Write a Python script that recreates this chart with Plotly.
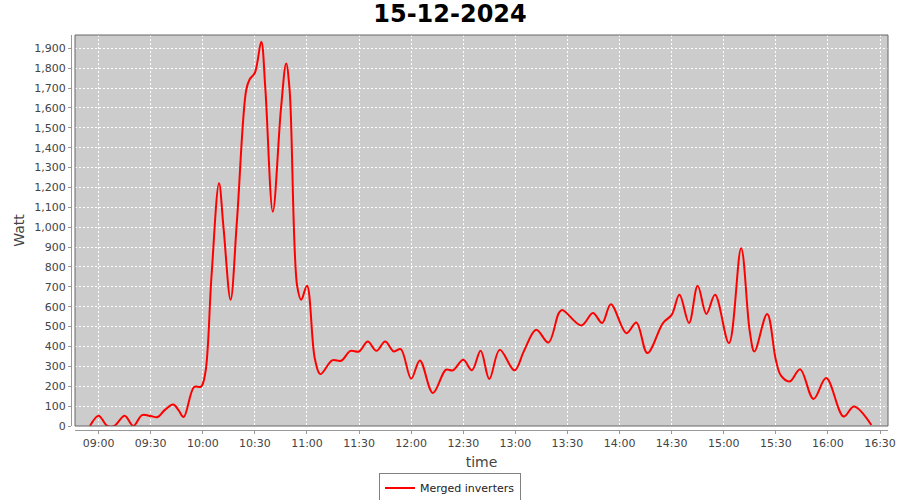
import plotly.graph_objects as go

DATE = "2024-12-15"
times = [
    "08:55:00", "09:00:00", "09:05:00", "09:09:00", "09:15:00", "09:20:00", "09:25:00", "09:30:00",
    "09:34:00", "09:38:00", "09:43:00", "09:46:00", "09:49:00", "09:55:00", "09:59:00", "10:01:30",
    "10:05:00", "10:09:20", "10:12:00", "10:16:00", "10:19:40", "10:25:00", "10:27:00", "10:30:00",
    "10:33:40", "10:36:00", "10:40:20", "10:45:00", "10:48:00", "10:50:00", "10:54:20", "10:56:40",
    "11:00:00", "11:04:30", "11:07:40", "11:14:30", "11:19:40", "11:25:00", "11:30:00", "11:35:00",
    "11:40:00", "11:45:00", "11:50:00", "11:54:00", "12:00:00", "12:05:00", "12:12:30", "12:20:00",
    "12:24:00", "12:30:00", "12:35:00", "12:40:00", "12:45:00", "12:51:00", "12:59:30", "13:05:00",
    "13:12:00", "13:19:00", "13:25:00", "13:27:00", "13:38:00", "13:44:40", "13:50:00", "13:55:00",
    "14:04:00", "14:09:40", "14:16:00", "14:25:00", "14:30:00", "14:34:30", "14:40:00", "14:45:00",
    "14:50:00", "14:55:00", "15:03:00", "15:10:00", "15:15:00", "15:17:40", "15:25:00", "15:30:00",
    "15:33:00", "15:38:00", "15:44:00", "15:51:40", "15:59:00", "16:09:00", "16:15:00", "16:25:00",
]
watts = [
    0, 52, 0, 0, 52, 0, 55, 50,
    45, 80, 108, 80, 45, 196, 198, 270,
    752, 1221, 990, 635, 1033, 1690, 1744, 1777,
    1933, 1700, 1078, 1594, 1824, 1690, 705, 635,
    705, 340, 261, 330, 328, 378, 375, 425,
    378, 425, 375, 387, 238, 330, 166, 283,
    280, 333, 280, 378, 236, 383, 280, 378,
    484, 420, 568, 584, 506, 568, 518, 613,
    467, 521, 367, 518, 559, 660, 518, 705,
    564, 660, 417, 894, 475, 375, 564, 333,
    253, 224, 286, 136, 241, 48, 98, 5,
]
series_name = "Merged inverters"
title_text = "15-12-2024"
x_title = "time"
y_title = "Watt"

W, H = 900, 500
ml, mr, mt, mb = 71, 12, 35, 70
pw = W - ml - mr
ph = H - mt - mb
off = 4

x = [f"{DATE} {t}" for t in times]

fig = go.Figure()
fig.add_trace(go.Scatter(
    x=x, y=watts, mode="lines", name=series_name,
    line=dict(color="#ff0000", width=2, shape="spline", smoothing=1.0),
    showlegend=True,
))

font_family = "DejaVu Sans"
fig.update_layout(
    width=W, height=H,
    margin=dict(l=ml, r=mr, t=mt, b=mb, autoexpand=False),
    paper_bgcolor="white",
    plot_bgcolor="#cccccc",
    font=dict(family=font_family, size=11, color="#444444"),
    title=dict(text=title_text, x=0.5, xref="container", xanchor="center",
               y=1 - 14 / H, yref="container", yanchor="middle",
               font=dict(family=font_family, size=24, color="black", weight="bold")),
    showlegend=True,
    legend=dict(orientation="h", x=(450 - ml) / pw, xanchor="center",
                y=(0 - (488 - (mt + ph))) / ph, yanchor="middle",
                bordercolor="#808080", borderwidth=1, bgcolor="white",
                font=dict(family=font_family, size=11, color="#222222"),
                itemwidth=30),
    xaxis=dict(
        type="date",
        domain=[off / pw, 1],
        anchor="free", position=0,
        range=[f"{DATE} 08:46:24", f"{DATE} 16:34:36"],
        dtick=30 * 60 * 1000, tick0=f"{DATE} 09:00:00",
        tickformat="%H:%M",
        showgrid=True, gridcolor="white", griddash="2px,2px", gridwidth=1,
        showline=True, linecolor="#999999", linewidth=1,
        ticks="outside", ticklen=3, tickcolor="#999999",
        tickfont=dict(size=11, color="#444444"),
        title=dict(text=x_title, font=dict(size=14, color="#444444"), standoff=7),
        zeroline=False, automargin=False,
    ),
    yaxis=dict(
        domain=[off / ph, 1],
        anchor="free", position=0,
        range=[0, 1967],
        dtick=100, tick0=0, tickformat=",",
        showgrid=True, gridcolor="white", griddash="2px,2px", gridwidth=1,
        showline=True, linecolor="#999999", linewidth=1,
        ticks="outside", ticklen=3, tickcolor="#999999",
        tickfont=dict(size=11, color="#444444"),
        title=dict(text=y_title, font=dict(size=14, color="#444444"), standoff=5),
        zeroline=False, automargin=False,
    ),
)
fig.add_shape(type="rect", xref="x domain", yref="y domain", x0=0, x1=1, y0=0, y1=1,
              line=dict(color="#666666", width=1), fillcolor="rgba(0,0,0,0)", layer="above")

fig.write_html("out.html", config={"displayModeBar": False},
               post_script="document.body.style.margin='0px';")
